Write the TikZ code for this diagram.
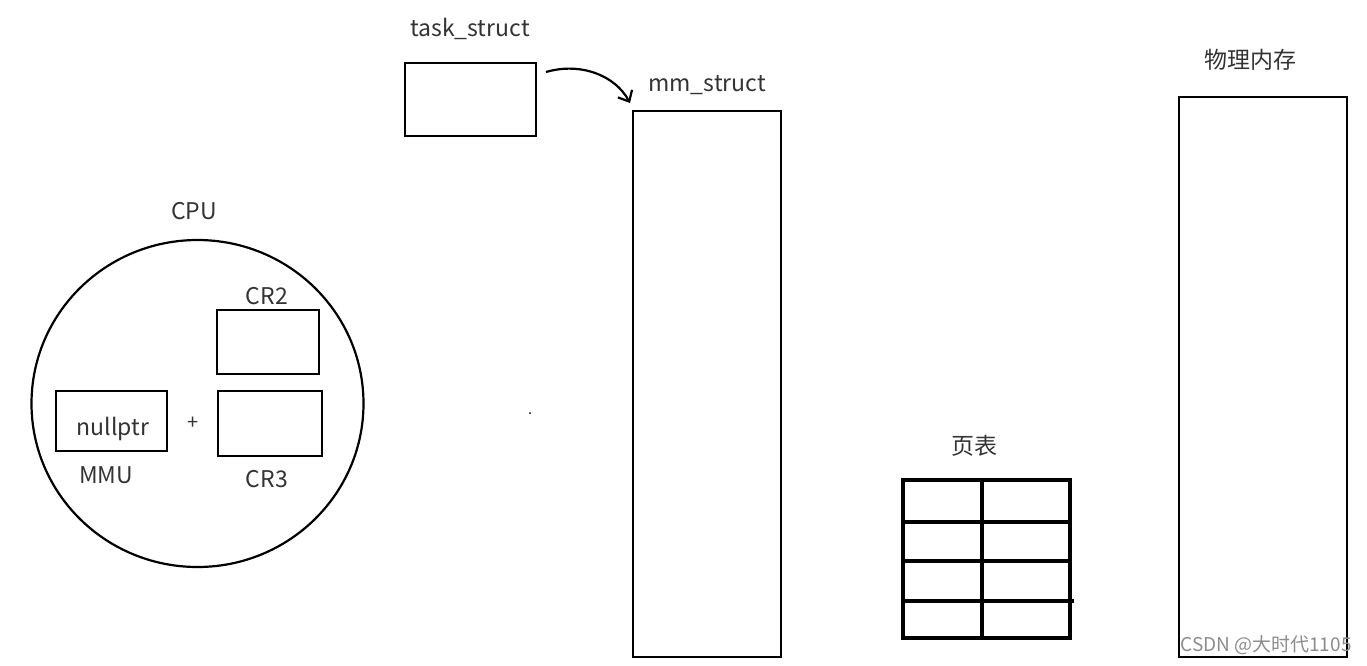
\documentclass[tikz,border=0pt]{standalone}
\usepackage{fontspec}
\setmainfont{Noto Sans CJK SC}
\usetikzlibrary{arrows.meta}
\begin{document}
\begin{tikzpicture}[x=1pt,y=-1pt,
  lbl/.style={font=\fontsize{23}{27}\selectfont, text=black!80, inner sep=0pt},
  box/.style={draw, line width=2.8pt},
  grid/.style={line width=3.2pt}]
\useasboundingbox (0,0) rectangle (1367,665);
% task_struct
\node[lbl] (tl) at (470,29) {task\_struct};
\draw[box] (405,63) rectangle (536,136);
\coordinate (ts) at (546,72);
% mm_struct
\node[lbl] (ml) at (707,85) {mm\_struct};
\draw[box] (633,111) rectangle (781,657);
\coordinate (mm) at (630,103);
\draw[line width=2.2pt, -{Straight Barb[length=9pt,width=16pt]}] (ts) .. controls (580,62) and (615,75) .. (mm);
% physical memory
\node[lbl] (pl) at (1250,60) {物理内存};
\draw[box] (1179,97) rectangle (1347,657);
% page table
\node[lbl] (ptl) at (974,446) {页表};
\draw[grid] (903,480) rectangle (1070,638);
\draw[grid] (982,480) -- (982,638);
\draw[grid] (903,522) -- (1070,522);
\draw[grid] (903,561) -- (1070,561);
\draw[grid] (903,601) -- (1074,601);
% CPU
\node[lbl] (cl) at (194,211) {CPU};
\draw[line width=2.2pt] (197.5,403.5) ellipse [x radius=166, y radius=163.5];
\node[lbl] (c2l) at (267,296) {CR2};
\draw[box] (217,310) rectangle (319,374);
\draw[box] (218,391) rectangle (322,456);
\node[lbl] (c3l) at (267,479) {CR3};
\draw[box] (56,391) rectangle (167,451);
\node[lbl] (np) at (113,429) {nullptr};
\node[lbl] (mmu) at (106,475) {MMU};
\node[lbl, font=\fontsize{20}{22}\selectfont] (plus) at (193,423) {+};
\fill (530,413) circle (1pt);
% watermark
\node[inner sep=0pt, text=black!45, font=\fontsize{19}{21}\selectfont] (wm) at (1266,645) {CSDN @大时代1105};
\end{tikzpicture}
\end{document}
